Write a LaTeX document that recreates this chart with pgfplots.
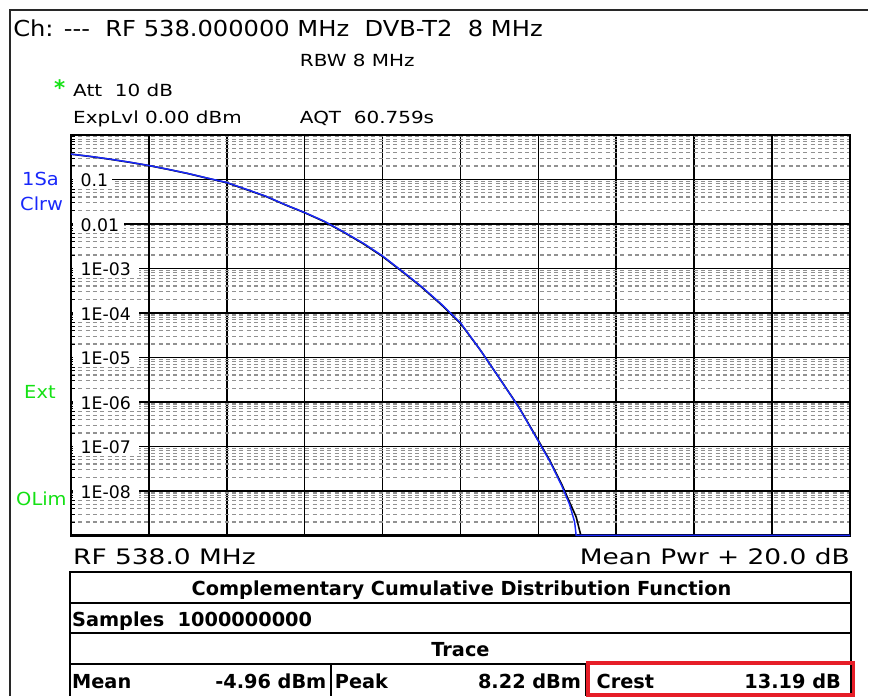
\documentclass[border=0pt]{standalone}
\usepackage{pgfplots}
\pgfplotsset{compat=1.18}
\usepackage{fontspec}
\setmainfont{DejaVu Sans}
\newfontfamily\hdrfont[FakeStretch=1.1]{DejaVu Sans}
\newfontfamily\smfont[FakeStretch=1.2]{DejaVu Sans}
\newfontfamily\rffont[FakeStretch=1.24]{DejaVu Sans}
\newfontfamily\lblfont[FakeStretch=1.08]{DejaVu Sans}
\definecolor{rsblue}{RGB}{25,40,250}
\definecolor{rsgreen}{RGB}{20,225,20}
\definecolor{rsred}{RGB}{230,30,40}
\definecolor{gridgray}{RGB}{145,145,145}
\definecolor{framegray}{RGB}{40,40,40}
\newcommand\fs[1]{\fontsize{#1}{#1}\selectfont}
\def\minorlist{1e-9}
\foreach \e in {-9,...,-1}{\foreach \m in {2,...,9}{\xdef\minorlist{\minorlist,\m e\e}}}
\begin{document}
\begin{tikzpicture}
\begin{scope}[x=0.75pt,y=-0.75pt]
\path (0,0) rectangle (869,697);
\end{scope}
\begin{axis}[
  at={(53.25pt,-402pt)}, anchor=south west,
  width=585pt, height=300.75pt, scale only axis,
  xmin=0, xmax=20, ymode=log, ymin=1e-9, ymax=1,
  xtick={0,2,...,20}, xticklabels={},
  ytick={1e-9,1e-8,1e-7,1e-6,1e-5,1e-4,1e-3,1e-2,1e-1,1}, yticklabels={},
  minor ytick/.expanded={\minorlist},
  xmajorgrids, ymajorgrids, yminorgrids,
  major grid style={black, line width=1.2pt},
  minor grid style={gridgray, line width=0.9pt, dash pattern=on 3pt off 2.5pt},
  axis line style={black, line width=2pt},
  major tick style={draw=none},
  minor tick style={black, line width=0.7pt},
  minor tick length=3pt,
  ytick pos=left, xtick pos=bottom,
  clip=false,
]
\addplot[black, line width=1.2pt] table {
x y
0 0.368
0.5 0.326
1 0.283
1.5 0.242
2 0.204
2.5 0.167
3 0.135
3.5 0.106
4 0.084
4.5 0.059
5 0.0415
5.5 0.0268
6 0.0178
6.5 0.0113
7 0.0065
7.5 0.0036
8 0.00185
8.5 0.00085
9 0.00038
9.5 0.000155
10 5.8e-5
10.5 1.5e-5
11 3.4e-6
11.5 7.6e-7
12 1.35e-7
12.3 4.7e-8
12.6 1.4e-8
12.8 5.6e-9
12.97 2.6e-9
13.09 1e-9
20 1e-9
};
\addplot[rsblue, line width=1.1pt] table {
x y
0 0.37
0.5 0.328
1 0.285
1.5 0.244
2 0.205
2.5 0.168
3 0.136
3.5 0.107
4 0.085
4.5 0.06
5 0.042
5.5 0.027
6 0.018
6.5 0.0115
7 0.0066
7.5 0.0037
8 0.0019
8.5 0.00087
9 0.00039
9.5 0.00016
10 6e-5
10.5 1.5e-5
11 3.4e-6
11.5 7.5e-7
12 1.3e-7
12.3 4.5e-8
12.6 1.3e-8
12.8 5e-9
12.93 2e-9
12.97 1e-9
20 1e-9
};
\end{axis}
\begin{scope}[x=0.75pt,y=-0.75pt]
% outer frame
\draw[framegray, line width=1.5pt] (10,697) -- (10,10) -- (869,10);
% header texts
\node[anchor=base west, inner sep=0pt] at (13,37) {\hdrfont\fs{16.5pt}Ch: -{}-{}-\ \ RF 538.000000 MHz\ \ DVB-T2\ \ 8 MHz};
\node[anchor=base west, inner sep=0pt] at (300,66.5) {\smfont\fs{12.5pt}RBW 8 MHz};
\node[anchor=base west, inner sep=0pt, text=rsgreen] at (54,96) {\fs{16pt}\bfseries *};
\node[anchor=base west, inner sep=0pt] at (73,96.5) {\smfont\fs{12.5pt}Att\ \ 10 dB};
\node[anchor=base west, inner sep=0pt] at (73,124) {\smfont\fs{12.5pt}ExpLvl 0.00 dBm};
\node[anchor=base west, inner sep=0pt] at (300,124) {\smfont\fs{12.5pt}AQT\ \ 60.759s};
% left side labels
\node[anchor=base west, inner sep=0pt, text=rsblue] at (22,186) {\lblfont\fs{13.5pt}1Sa};
\node[anchor=base west, inner sep=0pt, text=rsblue] at (20,211) {\lblfont\fs{13.5pt}Clrw};
\node[anchor=base west, inner sep=0pt, text=rsgreen] at (24,399) {\lblfont\fs{13.5pt}Ext};
\node[anchor=base west, inner sep=0pt, text=rsgreen] at (16,506) {\lblfont\fs{13.5pt}OLim};
% y tick labels inside plot
\foreach \lab/\yy/\xe in {0.1/180.7/112, 0.01/225.2/124, 1E-03/269.7/139, 1E-04/314.3/139, 1E-05/358.8/139, 1E-06/403.4/139, 1E-07/447.9/139, 1E-08/492.5/139}{
  \fill[white] (73,\yy-8) rectangle (\xe,\yy+8);
  \node[anchor=base west, inner sep=0pt] at (80.5,\yy+6.5) {\fs{13pt}\lab};
}
% below axis
\node[anchor=base west, inner sep=0pt] at (73,565) {\rffont\fs{16pt}RF 538.0 MHz};
\node[anchor=base east, inner sep=0pt] at (851,565) {\rffont\fs{16pt}Mean Pwr + 20.0 dB};
% table
\draw[black, line width=1.5pt] (70,697) -- (70,573) -- (852,573) -- (852,697);
\draw[black, line width=1.5pt] (70,604) -- (852,604);
\draw[black, line width=1.5pt] (70,634) -- (852,634);
\draw[black, line width=1.5pt] (70,665) -- (852,665);
\draw[black, line width=1.5pt] (331,665) -- (331,697);
\draw[black, line width=1.5pt] (587,665) -- (587,697);
\node[anchor=base, inner sep=0pt] at (462,596) {\fs{14.5pt}\bfseries Complementary Cumulative Distribution Function};
\node[anchor=base west, inner sep=0pt] at (72,627) {\fs{14.5pt}\bfseries Samples\ \ 1000000000};
\node[anchor=base, inner sep=0pt] at (461,657) {\fs{14.5pt}\bfseries Trace};
\node[anchor=base west, inner sep=0pt] at (72,689) {\fs{14.5pt}\bfseries Mean};
\node[anchor=base east, inner sep=0pt] at (327,689) {\fs{14.5pt}\bfseries -4.96 dBm};
\node[anchor=base west, inner sep=0pt] at (335,689) {\fs{14.5pt}\bfseries Peak};
\node[anchor=base east, inner sep=0pt] at (582,689) {\fs{14.5pt}\bfseries 8.22 dBm};
\node[anchor=base west, inner sep=0pt] at (597,689) {\fs{14.5pt}\bfseries Crest};
\node[anchor=base east, inner sep=0pt] at (842,689) {\fs{14.5pt}\bfseries 13.19 dB};
\draw[rsred, line width=2.7pt] (588.5,663.5) rectangle (854.5,695.5);
\end{scope}
\end{tikzpicture}
\end{document}
